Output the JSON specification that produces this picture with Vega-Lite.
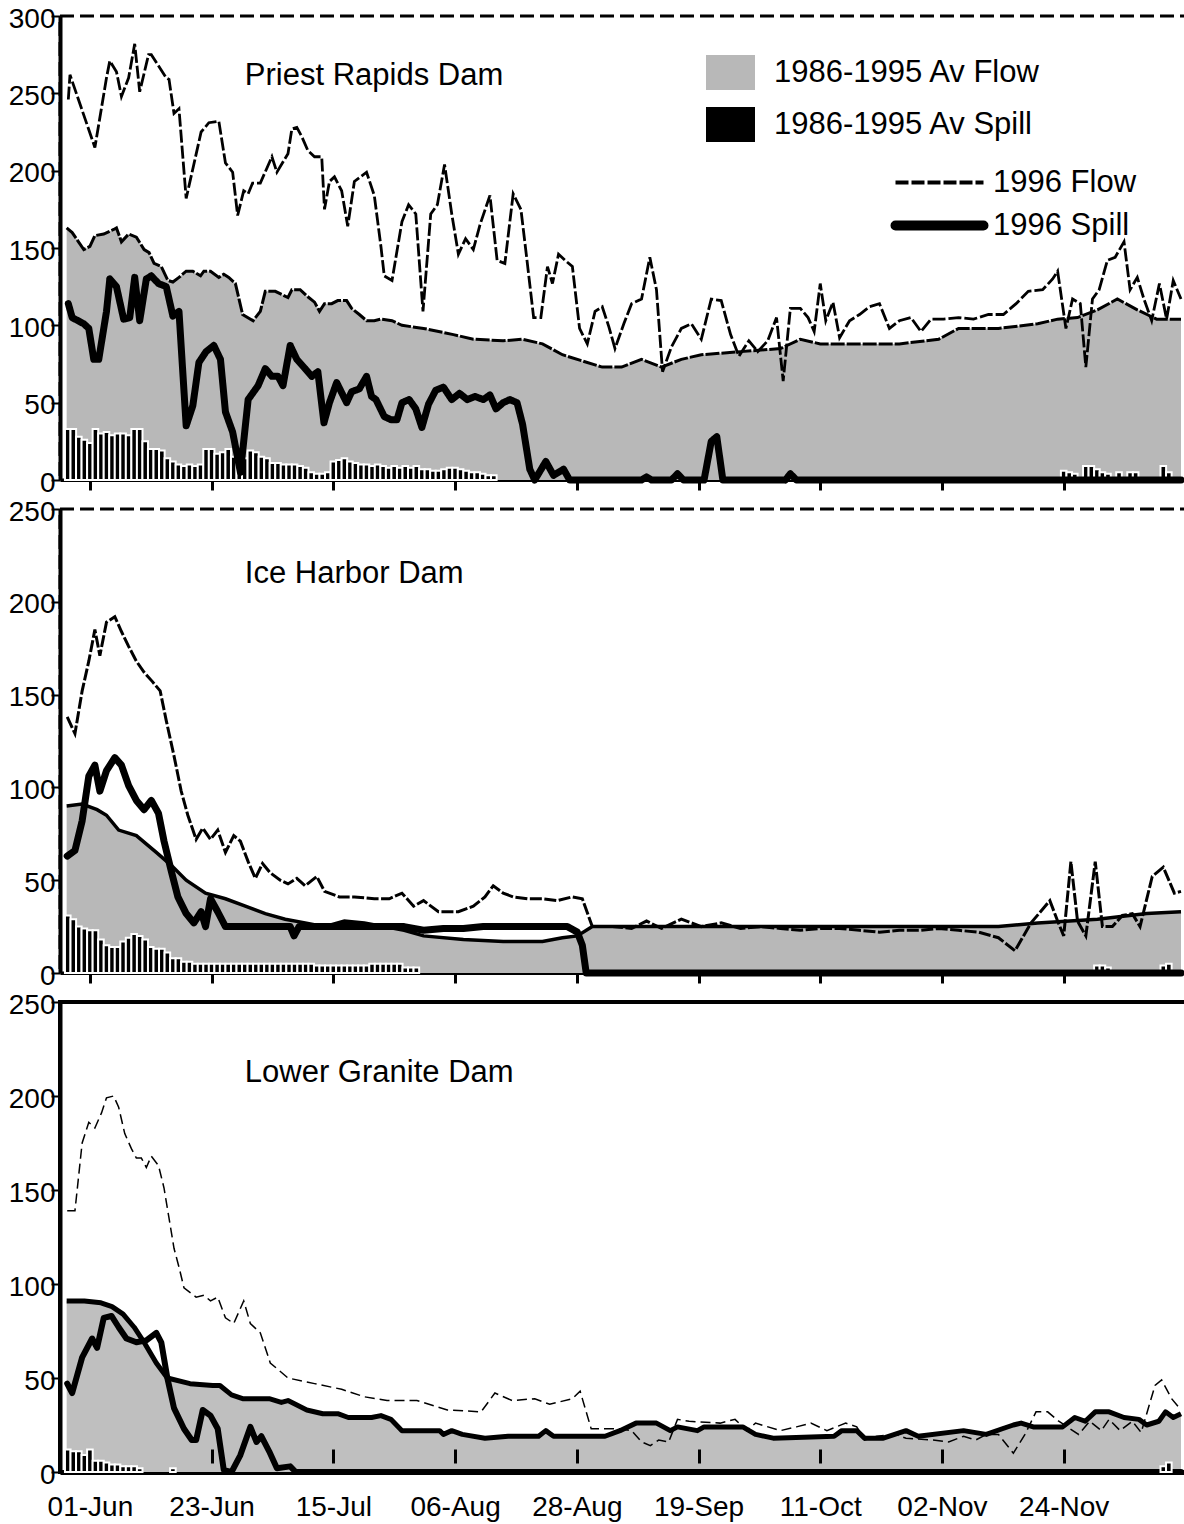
{
  "$schema": "https://vega.github.io/schema/vega-lite/v6.json",
  "background": "white",
  "padding": {"left": 6, "top": 3, "right": 0, "bottom": 0},
  "config": {
    "font": "Liberation Sans",
    "axis": {"grid": false, "labelColor": "black", "domainColor": "black", "tickColor": "black", "labelFont": "Liberation Sans", "labelFontSize": 28, "labelFlush": false, "labelOverlap": false, "zindex": 1},
    "legend": {"labelFont": "Liberation Sans", "labelFontSize": 31, "labelColor": "black", "labelLimit": 0, "padding": 0, "offset": 0}
  },
  "datasets": {
    "prAvFlow": [{"day":-4.2,"kcfs":163},{"day":-3.2,"kcfs":160},{"day":-1.1,"kcfs":149},{"day":0,"kcfs":151},{"day":0.9,"kcfs":158},{"day":2.5,"kcfs":159},{"day":4.3,"kcfs":162},{"day":4.8,"kcfs":163},{"day":5.7,"kcfs":154},{"day":7,"kcfs":159},{"day":8.4,"kcfs":157},{"day":9.8,"kcfs":149},{"day":10.7,"kcfs":147},{"day":11.6,"kcfs":140},{"day":12.9,"kcfs":138},{"day":14.1,"kcfs":129},{"day":15,"kcfs":128},{"day":16.1,"kcfs":131},{"day":17.4,"kcfs":135},{"day":18.6,"kcfs":135},{"day":20,"kcfs":132},{"day":20.6,"kcfs":135},{"day":21.8,"kcfs":135},{"day":23.3,"kcfs":131},{"day":24.2,"kcfs":133},{"day":25.1,"kcfs":131},{"day":26.3,"kcfs":127},{"day":27.6,"kcfs":107},{"day":29.5,"kcfs":103},{"day":30.8,"kcfs":109},{"day":31.7,"kcfs":122},{"day":33.5,"kcfs":122},{"day":35.8,"kcfs":118},{"day":36.5,"kcfs":123},{"day":38,"kcfs":123},{"day":39.2,"kcfs":119},{"day":40.6,"kcfs":115},{"day":41.5,"kcfs":109},{"day":42.4,"kcfs":114},{"day":43.7,"kcfs":114},{"day":44.8,"kcfs":116},{"day":46.4,"kcfs":116},{"day":47.3,"kcfs":111},{"day":48.7,"kcfs":107},{"day":50,"kcfs":103},{"day":51.4,"kcfs":103},{"day":52.6,"kcfs":104},{"day":54.6,"kcfs":103},{"day":56.4,"kcfs":100},{"day":60.3,"kcfs":98},{"day":65.7,"kcfs":94},{"day":69.3,"kcfs":91},{"day":74.7,"kcfs":90},{"day":78.2,"kcfs":91},{"day":81.8,"kcfs":88},{"day":85.4,"kcfs":81},{"day":89,"kcfs":77},{"day":92.6,"kcfs":73},{"day":96.1,"kcfs":73},{"day":99.7,"kcfs":78},{"day":103.3,"kcfs":73},{"day":106.9,"kcfs":78},{"day":110.5,"kcfs":81},{"day":117.6,"kcfs":83},{"day":124.8,"kcfs":85},{"day":128.4,"kcfs":91},{"day":132,"kcfs":88},{"day":139.1,"kcfs":88},{"day":146.3,"kcfs":88},{"day":153.4,"kcfs":91},{"day":157,"kcfs":98},{"day":164.2,"kcfs":98},{"day":171.3,"kcfs":101},{"day":174.9,"kcfs":104},{"day":178.5,"kcfs":105},{"day":182.1,"kcfs":110},{"day":185.7,"kcfs":117},{"day":189.3,"kcfs":110},{"day":192.8,"kcfs":104},{"day":197.2,"kcfs":104}],
    "prFlow": [{"day":-3.9,"kcfs":246},{"day":-3.6,"kcfs":262},{"day":0.9,"kcfs":215},{"day":3,"kcfs":260},{"day":3.6,"kcfs":271},{"day":4.8,"kcfs":264},{"day":5.7,"kcfs":248},{"day":7,"kcfs":260},{"day":8.1,"kcfs":282},{"day":9,"kcfs":251},{"day":10.6,"kcfs":275},{"day":11.1,"kcfs":275},{"day":13.8,"kcfs":260},{"day":14.3,"kcfs":259},{"day":15.2,"kcfs":237},{"day":16.1,"kcfs":240},{"day":17.4,"kcfs":182},{"day":20.1,"kcfs":225},{"day":21.5,"kcfs":231},{"day":23.3,"kcfs":232},{"day":24.5,"kcfs":205},{"day":25.8,"kcfs":199},{"day":26.7,"kcfs":171},{"day":27.8,"kcfs":187},{"day":28.6,"kcfs":185},{"day":29.4,"kcfs":192},{"day":30.8,"kcfs":192},{"day":32.9,"kcfs":209},{"day":33.8,"kcfs":199},{"day":35.8,"kcfs":211},{"day":36.5,"kcfs":227},{"day":37.4,"kcfs":228},{"day":38.3,"kcfs":222},{"day":39.4,"kcfs":213},{"day":40.6,"kcfs":209},{"day":41.9,"kcfs":209},{"day":42.4,"kcfs":175},{"day":43.3,"kcfs":193},{"day":44.2,"kcfs":196},{"day":45.5,"kcfs":187},{"day":46.6,"kcfs":164},{"day":47.8,"kcfs":193},{"day":50,"kcfs":199},{"day":51.4,"kcfs":184},{"day":52.6,"kcfs":151},{"day":53.2,"kcfs":132},{"day":54.6,"kcfs":129},{"day":56.4,"kcfs":167},{"day":57.6,"kcfs":178},{"day":58.9,"kcfs":172},{"day":60.2,"kcfs":109},{"day":61.6,"kcfs":172},{"day":62.8,"kcfs":178},{"day":64.1,"kcfs":204},{"day":65.4,"kcfs":172},{"day":66.6,"kcfs":146},{"day":67.9,"kcfs":156},{"day":69.3,"kcfs":149},{"day":70.5,"kcfs":165},{"day":72.3,"kcfs":184},{"day":73.6,"kcfs":142},{"day":75,"kcfs":140},{"day":76.5,"kcfs":185},{"day":77.9,"kcfs":175},{"day":79,"kcfs":142},{"day":80.2,"kcfs":105},{"day":81.5,"kcfs":105},{"day":82.7,"kcfs":138},{"day":83.6,"kcfs":127},{"day":84.7,"kcfs":146},{"day":85.9,"kcfs":142},{"day":87.2,"kcfs":138},{"day":88.5,"kcfs":98},{"day":89.9,"kcfs":88},{"day":91.3,"kcfs":109},{"day":92.6,"kcfs":112},{"day":93.8,"kcfs":99},{"day":94.9,"kcfs":85},{"day":96.5,"kcfs":101},{"day":97.9,"kcfs":114},{"day":99.7,"kcfs":117},{"day":101.2,"kcfs":144},{"day":102.4,"kcfs":123},{"day":103.5,"kcfs":70},{"day":105.1,"kcfs":86},{"day":106.9,"kcfs":98},{"day":108.7,"kcfs":101},{"day":110.5,"kcfs":91},{"day":112.3,"kcfs":117},{"day":114.1,"kcfs":116},{"day":115.8,"kcfs":94},{"day":117.3,"kcfs":80},{"day":119.1,"kcfs":90},{"day":120.7,"kcfs":83},{"day":122.5,"kcfs":90},{"day":124.1,"kcfs":105},{"day":125.3,"kcfs":64},{"day":126.6,"kcfs":111},{"day":128.4,"kcfs":111},{"day":129.8,"kcfs":105},{"day":130.9,"kcfs":96},{"day":132,"kcfs":127},{"day":133,"kcfs":103},{"day":134.3,"kcfs":115},{"day":135.5,"kcfs":92},{"day":137.3,"kcfs":103},{"day":139.1,"kcfs":107},{"day":140.9,"kcfs":112},{"day":142.7,"kcfs":114},{"day":144.5,"kcfs":98},{"day":146.3,"kcfs":103},{"day":148.4,"kcfs":105},{"day":150.2,"kcfs":96},{"day":152,"kcfs":104},{"day":154.3,"kcfs":104},{"day":157,"kcfs":105},{"day":159.7,"kcfs":104},{"day":162.4,"kcfs":107},{"day":165.1,"kcfs":107},{"day":167.4,"kcfs":114},{"day":169.6,"kcfs":122},{"day":172.2,"kcfs":123},{"day":174,"kcfs":130},{"day":174.9,"kcfs":135},{"day":176.4,"kcfs":98},{"day":177.6,"kcfs":117},{"day":179,"kcfs":114},{"day":180,"kcfs":73},{"day":181.2,"kcfs":117},{"day":182.4,"kcfs":123},{"day":183.9,"kcfs":142},{"day":185.3,"kcfs":144},{"day":186.9,"kcfs":154},{"day":188,"kcfs":123},{"day":189.3,"kcfs":131},{"day":190.5,"kcfs":117},{"day":191.9,"kcfs":103},{"day":193.3,"kcfs":127},{"day":194.6,"kcfs":104},{"day":195.8,"kcfs":129},{"day":197.2,"kcfs":117}],
    "prSpill": [{"day":-3.9,"kcfs":114},{"day":-3.2,"kcfs":105},{"day":-1.1,"kcfs":101},{"day":-0.2,"kcfs":98},{"day":0.7,"kcfs":78},{"day":1.6,"kcfs":78},{"day":3,"kcfs":109},{"day":3.6,"kcfs":130},{"day":4.8,"kcfs":125},{"day":6.1,"kcfs":104},{"day":7.2,"kcfs":105},{"day":8.1,"kcfs":131},{"day":9,"kcfs":103},{"day":10.2,"kcfs":130},{"day":11.1,"kcfs":132},{"day":12.4,"kcfs":127},{"day":13.8,"kcfs":125},{"day":15,"kcfs":106},{"day":16.1,"kcfs":109},{"day":17.4,"kcfs":35},{"day":18.6,"kcfs":48},{"day":19.7,"kcfs":76},{"day":21,"kcfs":83},{"day":22.4,"kcfs":87},{"day":23.6,"kcfs":78},{"day":24.5,"kcfs":44},{"day":25.8,"kcfs":31},{"day":27.2,"kcfs":5},{"day":27.8,"kcfs":25},{"day":28.6,"kcfs":52},{"day":30.4,"kcfs":61},{"day":31.7,"kcfs":72},{"day":32.9,"kcfs":67},{"day":34,"kcfs":67},{"day":34.9,"kcfs":61},{"day":36.2,"kcfs":87},{"day":37.4,"kcfs":78},{"day":38.9,"kcfs":72},{"day":40.1,"kcfs":67},{"day":41.2,"kcfs":70},{"day":42.3,"kcfs":37},{"day":43.3,"kcfs":50},{"day":44.6,"kcfs":63},{"day":46.4,"kcfs":50},{"day":47.3,"kcfs":57},{"day":48.7,"kcfs":59},{"day":50,"kcfs":67},{"day":50.9,"kcfs":54},{"day":51.7,"kcfs":52},{"day":53.2,"kcfs":41},{"day":54.4,"kcfs":39},{"day":55.5,"kcfs":39},{"day":56.4,"kcfs":50},{"day":57.7,"kcfs":52},{"day":58.9,"kcfs":46},{"day":60,"kcfs":34},{"day":61.2,"kcfs":49},{"day":62.5,"kcfs":58},{"day":63.9,"kcfs":60},{"day":65.4,"kcfs":52},{"day":66.8,"kcfs":56},{"day":68.2,"kcfs":52},{"day":69.6,"kcfs":54},{"day":71.1,"kcfs":52},{"day":72.3,"kcfs":55},{"day":73.4,"kcfs":46},{"day":74.7,"kcfs":50},{"day":75.9,"kcfs":52},{"day":77.2,"kcfs":50},{"day":78.2,"kcfs":36},{"day":79.5,"kcfs":7},{"day":80.4,"kcfs":0},{"day":82.4,"kcfs":12},{"day":83.8,"kcfs":3},{"day":85.6,"kcfs":7},{"day":86.7,"kcfs":0},{"day":99.7,"kcfs":0},{"day":100.6,"kcfs":2},{"day":101.5,"kcfs":0},{"day":105.1,"kcfs":0},{"day":106.2,"kcfs":4},{"day":107.3,"kcfs":0},{"day":111,"kcfs":0},{"day":112.3,"kcfs":25},{"day":113.3,"kcfs":28},{"day":114.4,"kcfs":0},{"day":125.7,"kcfs":0},{"day":126.6,"kcfs":4},{"day":127.7,"kcfs":0},{"day":197.2,"kcfs":0}],
    "prAvSpill": [{"day":-4,"kcfs":33},{"day":-3,"kcfs":33},{"day":-2,"kcfs":28},{"day":-1,"kcfs":26},{"day":0,"kcfs":24},{"day":1,"kcfs":33},{"day":2,"kcfs":30},{"day":3,"kcfs":31},{"day":4,"kcfs":29},{"day":5,"kcfs":30},{"day":6,"kcfs":30},{"day":7,"kcfs":29},{"day":8,"kcfs":33},{"day":9,"kcfs":33},{"day":10,"kcfs":25},{"day":11,"kcfs":20},{"day":12,"kcfs":20},{"day":13,"kcfs":19},{"day":14,"kcfs":14},{"day":15,"kcfs":12},{"day":16,"kcfs":10},{"day":17,"kcfs":9},{"day":18,"kcfs":10},{"day":19,"kcfs":9},{"day":20,"kcfs":10},{"day":21,"kcfs":20},{"day":22,"kcfs":20},{"day":23,"kcfs":17},{"day":24,"kcfs":18},{"day":25,"kcfs":20},{"day":26,"kcfs":15},{"day":27,"kcfs":15},{"day":28,"kcfs":14},{"day":29,"kcfs":19},{"day":30,"kcfs":18},{"day":31,"kcfs":15},{"day":32,"kcfs":14},{"day":33,"kcfs":11},{"day":34,"kcfs":11},{"day":35,"kcfs":10},{"day":36,"kcfs":10},{"day":37,"kcfs":10},{"day":38,"kcfs":9},{"day":39,"kcfs":8},{"day":40,"kcfs":5},{"day":41,"kcfs":4},{"day":42,"kcfs":4},{"day":43,"kcfs":5},{"day":44,"kcfs":12},{"day":45,"kcfs":13},{"day":46,"kcfs":14},{"day":47,"kcfs":12},{"day":48,"kcfs":11},{"day":49,"kcfs":10},{"day":50,"kcfs":10},{"day":51,"kcfs":9},{"day":52,"kcfs":10},{"day":53,"kcfs":9},{"day":54,"kcfs":8},{"day":55,"kcfs":9},{"day":56,"kcfs":8},{"day":57,"kcfs":9},{"day":58,"kcfs":8},{"day":59,"kcfs":9},{"day":60,"kcfs":7},{"day":61,"kcfs":7},{"day":62,"kcfs":6},{"day":63,"kcfs":6},{"day":64,"kcfs":7},{"day":65,"kcfs":8},{"day":66,"kcfs":8},{"day":67,"kcfs":7},{"day":68,"kcfs":6},{"day":69,"kcfs":5},{"day":70,"kcfs":5},{"day":71,"kcfs":4},{"day":72,"kcfs":3},{"day":73,"kcfs":3},{"day":176,"kcfs":6},{"day":177,"kcfs":5},{"day":178,"kcfs":4},{"day":180,"kcfs":9},{"day":181,"kcfs":9},{"day":182,"kcfs":7},{"day":183,"kcfs":5},{"day":184,"kcfs":4},{"day":186,"kcfs":5},{"day":188,"kcfs":5},{"day":189,"kcfs":5},{"day":194,"kcfs":9},{"day":195,"kcfs":5}],
    "ihAvFlow": [{"day":-4.2,"kcfs":90},{"day":-1.4,"kcfs":91},{"day":1.3,"kcfs":88},{"day":3,"kcfs":85},{"day":5.2,"kcfs":77},{"day":8.4,"kcfs":74},{"day":12,"kcfs":65},{"day":14.7,"kcfs":58},{"day":17.4,"kcfs":50},{"day":20.9,"kcfs":43},{"day":24.5,"kcfs":40},{"day":28.1,"kcfs":36},{"day":31.7,"kcfs":32},{"day":35.3,"kcfs":29},{"day":38.9,"kcfs":27},{"day":42.4,"kcfs":25},{"day":46,"kcfs":28},{"day":49.6,"kcfs":27},{"day":53.2,"kcfs":25},{"day":56.8,"kcfs":23},{"day":60.3,"kcfs":20},{"day":67.5,"kcfs":18},{"day":74.7,"kcfs":17},{"day":81.8,"kcfs":17},{"day":85.4,"kcfs":19},{"day":88.1,"kcfs":20},{"day":90.8,"kcfs":25},{"day":164.2,"kcfs":25},{"day":171.3,"kcfs":27},{"day":182.1,"kcfs":29},{"day":191,"kcfs":32},{"day":197.2,"kcfs":33}],
    "ihFlow": [{"day":-4.1,"kcfs":138},{"day":-2.7,"kcfs":129},{"day":-1.4,"kcfs":152},{"day":-0.2,"kcfs":168},{"day":0.9,"kcfs":185},{"day":1.8,"kcfs":171},{"day":3,"kcfs":189},{"day":4.5,"kcfs":192},{"day":5.7,"kcfs":184},{"day":7,"kcfs":176},{"day":8.4,"kcfs":168},{"day":9.8,"kcfs":162},{"day":11.3,"kcfs":157},{"day":12.7,"kcfs":152},{"day":13.8,"kcfs":136},{"day":15.2,"kcfs":117},{"day":16.5,"kcfs":98},{"day":17.7,"kcfs":85},{"day":19.2,"kcfs":72},{"day":20.4,"kcfs":78},{"day":21.8,"kcfs":72},{"day":23.1,"kcfs":77},{"day":24.5,"kcfs":65},{"day":26,"kcfs":74},{"day":27.2,"kcfs":71},{"day":28.6,"kcfs":60},{"day":29.9,"kcfs":51},{"day":31.2,"kcfs":59},{"day":32.6,"kcfs":54},{"day":34.4,"kcfs":50},{"day":35.8,"kcfs":48},{"day":37.4,"kcfs":51},{"day":38.9,"kcfs":47},{"day":41,"kcfs":52},{"day":42.4,"kcfs":44},{"day":45.1,"kcfs":41},{"day":47.8,"kcfs":41},{"day":51.4,"kcfs":40},{"day":54.1,"kcfs":40},{"day":56.4,"kcfs":43},{"day":58.5,"kcfs":36},{"day":60.3,"kcfs":39},{"day":63,"kcfs":33},{"day":66.6,"kcfs":33},{"day":69.3,"kcfs":36},{"day":71.4,"kcfs":41},{"day":72.9,"kcfs":47},{"day":74.7,"kcfs":43},{"day":76.5,"kcfs":41},{"day":79.1,"kcfs":40},{"day":81.8,"kcfs":40},{"day":84.5,"kcfs":39},{"day":87.2,"kcfs":41},{"day":89,"kcfs":40},{"day":90.8,"kcfs":25},{"day":94.4,"kcfs":25},{"day":97.9,"kcfs":24},{"day":100.6,"kcfs":28},{"day":103.3,"kcfs":24},{"day":106.9,"kcfs":29},{"day":110.5,"kcfs":25},{"day":114.1,"kcfs":27},{"day":117.6,"kcfs":24},{"day":121.2,"kcfs":25},{"day":124.8,"kcfs":24},{"day":128.4,"kcfs":23},{"day":132,"kcfs":24},{"day":135.5,"kcfs":24},{"day":139.1,"kcfs":23},{"day":142.7,"kcfs":22},{"day":146.3,"kcfs":23},{"day":150,"kcfs":23},{"day":153.4,"kcfs":24},{"day":157,"kcfs":23},{"day":160.6,"kcfs":22},{"day":164.2,"kcfs":19},{"day":167.2,"kcfs":12},{"day":170.1,"kcfs":27},{"day":173.5,"kcfs":39},{"day":174.9,"kcfs":28},{"day":176,"kcfs":20},{"day":177.3,"kcfs":60},{"day":178.5,"kcfs":28},{"day":180,"kcfs":20},{"day":181.7,"kcfs":60},{"day":183,"kcfs":25},{"day":184.8,"kcfs":25},{"day":186.6,"kcfs":31},{"day":188.4,"kcfs":32},{"day":189.8,"kcfs":25},{"day":192,"kcfs":52},{"day":194,"kcfs":57},{"day":196,"kcfs":43},{"day":197.2,"kcfs":44}],
    "ihSpill": [{"day":-4.1,"kcfs":63},{"day":-2.7,"kcfs":66},{"day":-1.4,"kcfs":82},{"day":-0.2,"kcfs":106},{"day":0.9,"kcfs":112},{"day":1.8,"kcfs":98},{"day":3,"kcfs":109},{"day":4.5,"kcfs":116},{"day":5.7,"kcfs":112},{"day":7,"kcfs":101},{"day":8.4,"kcfs":93},{"day":9.8,"kcfs":88},{"day":11.1,"kcfs":93},{"day":12.4,"kcfs":86},{"day":13.4,"kcfs":71},{"day":14.7,"kcfs":55},{"day":15.9,"kcfs":41},{"day":17.4,"kcfs":32},{"day":18.8,"kcfs":27},{"day":20.1,"kcfs":33},{"day":20.9,"kcfs":25},{"day":21.8,"kcfs":40},{"day":23.1,"kcfs":33},{"day":24.5,"kcfs":25},{"day":36.2,"kcfs":25},{"day":36.9,"kcfs":20},{"day":37.8,"kcfs":25},{"day":56.8,"kcfs":25},{"day":60.3,"kcfs":23},{"day":63.9,"kcfs":24},{"day":67.5,"kcfs":24},{"day":71.1,"kcfs":25},{"day":86.3,"kcfs":25},{"day":88.1,"kcfs":22},{"day":89,"kcfs":15},{"day":89.7,"kcfs":0},{"day":197.2,"kcfs":0}],
    "ihAvSpill": [{"day":-4,"kcfs":31},{"day":-3,"kcfs":29},{"day":-2,"kcfs":25},{"day":-1,"kcfs":24},{"day":0,"kcfs":23},{"day":1,"kcfs":23},{"day":2,"kcfs":18},{"day":3,"kcfs":15},{"day":4,"kcfs":14},{"day":5,"kcfs":14},{"day":6,"kcfs":17},{"day":7,"kcfs":19},{"day":8,"kcfs":21},{"day":9,"kcfs":20},{"day":10,"kcfs":18},{"day":11,"kcfs":14},{"day":12,"kcfs":13},{"day":13,"kcfs":13},{"day":14,"kcfs":11},{"day":15,"kcfs":8},{"day":16,"kcfs":8},{"day":17,"kcfs":6},{"day":18,"kcfs":6},{"day":19,"kcfs":5},{"day":20,"kcfs":5},{"day":21,"kcfs":5},{"day":22,"kcfs":5},{"day":23,"kcfs":5},{"day":24,"kcfs":5},{"day":25,"kcfs":5},{"day":26,"kcfs":5},{"day":27,"kcfs":5},{"day":28,"kcfs":5},{"day":29,"kcfs":5},{"day":30,"kcfs":5},{"day":31,"kcfs":5},{"day":32,"kcfs":5},{"day":33,"kcfs":5},{"day":34,"kcfs":5},{"day":35,"kcfs":5},{"day":36,"kcfs":5},{"day":37,"kcfs":5},{"day":38,"kcfs":5},{"day":39,"kcfs":5},{"day":40,"kcfs":5},{"day":41,"kcfs":4},{"day":42,"kcfs":4},{"day":43,"kcfs":4},{"day":44,"kcfs":4},{"day":45,"kcfs":4},{"day":46,"kcfs":4},{"day":47,"kcfs":4},{"day":48,"kcfs":4},{"day":49,"kcfs":4},{"day":50,"kcfs":4},{"day":51,"kcfs":5},{"day":52,"kcfs":5},{"day":53,"kcfs":5},{"day":54,"kcfs":5},{"day":55,"kcfs":5},{"day":56,"kcfs":5},{"day":57,"kcfs":3},{"day":58,"kcfs":3},{"day":59,"kcfs":3},{"day":182,"kcfs":4},{"day":183,"kcfs":4},{"day":184,"kcfs":3},{"day":194,"kcfs":4},{"day":195,"kcfs":5}],
    "lgAvFlow": [{"day":-4.2,"kcfs":91},{"day":-1,"kcfs":91},{"day":2,"kcfs":90},{"day":4,"kcfs":88},{"day":6,"kcfs":84},{"day":8,"kcfs":77},{"day":10,"kcfs":68},{"day":12,"kcfs":58},{"day":14,"kcfs":50},{"day":18.1,"kcfs":47},{"day":22.2,"kcfs":46},{"day":23.5,"kcfs":46},{"day":25.6,"kcfs":41},{"day":27.6,"kcfs":39},{"day":32.4,"kcfs":39},{"day":34.6,"kcfs":37},{"day":35.8,"kcfs":38},{"day":39.2,"kcfs":33},{"day":42.1,"kcfs":31},{"day":44.8,"kcfs":31},{"day":46.7,"kcfs":29},{"day":50.9,"kcfs":29},{"day":52.6,"kcfs":30},{"day":54.4,"kcfs":28},{"day":56.4,"kcfs":22},{"day":63.2,"kcfs":22},{"day":63.9,"kcfs":20},{"day":65.4,"kcfs":22},{"day":67.3,"kcfs":20},{"day":71.4,"kcfs":18},{"day":75.6,"kcfs":19},{"day":81.1,"kcfs":19},{"day":82.4,"kcfs":22},{"day":83.8,"kcfs":19},{"day":93.1,"kcfs":19},{"day":95.8,"kcfs":22},{"day":98.7,"kcfs":26},{"day":102.4,"kcfs":26},{"day":104.9,"kcfs":22},{"day":106.2,"kcfs":24},{"day":109.8,"kcfs":22},{"day":111,"kcfs":24},{"day":118,"kcfs":24},{"day":120.3,"kcfs":20},{"day":123.5,"kcfs":18},{"day":134.5,"kcfs":19},{"day":135.9,"kcfs":22},{"day":138.6,"kcfs":22},{"day":140,"kcfs":18},{"day":143.4,"kcfs":18},{"day":147.5,"kcfs":22},{"day":149.7,"kcfs":19},{"day":157.9,"kcfs":22},{"day":162,"kcfs":20},{"day":164.9,"kcfs":23},{"day":166.9,"kcfs":25},{"day":168.3,"kcfs":26},{"day":170.5,"kcfs":24},{"day":175.8,"kcfs":24},{"day":178,"kcfs":29},{"day":179.9,"kcfs":27},{"day":181.7,"kcfs":32},{"day":184.2,"kcfs":32},{"day":186.9,"kcfs":29},{"day":189.6,"kcfs":28},{"day":191,"kcfs":25},{"day":193.2,"kcfs":27},{"day":194.4,"kcfs":32},{"day":195.8,"kcfs":29},{"day":197.2,"kcfs":31}],
    "lgFlow": [{"day":-4.1,"kcfs":139},{"day":-2.7,"kcfs":139},{"day":-1.4,"kcfs":175},{"day":-0.2,"kcfs":186},{"day":0.9,"kcfs":183},{"day":2.1,"kcfs":191},{"day":3,"kcfs":199},{"day":4.3,"kcfs":200},{"day":5.2,"kcfs":194},{"day":6.3,"kcfs":180},{"day":7.5,"kcfs":172},{"day":8.4,"kcfs":167},{"day":9.3,"kcfs":167},{"day":10.2,"kcfs":162},{"day":11.1,"kcfs":168},{"day":12.4,"kcfs":163},{"day":13.4,"kcfs":151},{"day":14.3,"kcfs":135},{"day":15.2,"kcfs":119},{"day":16.1,"kcfs":109},{"day":17,"kcfs":98},{"day":19.2,"kcfs":93},{"day":20.6,"kcfs":94},{"day":21.8,"kcfs":91},{"day":23.1,"kcfs":93},{"day":24.5,"kcfs":82},{"day":26,"kcfs":79},{"day":27.8,"kcfs":91},{"day":29,"kcfs":79},{"day":30.8,"kcfs":74},{"day":32.6,"kcfs":58},{"day":35.8,"kcfs":50},{"day":40.6,"kcfs":47},{"day":45.5,"kcfs":44},{"day":49.6,"kcfs":40},{"day":53.7,"kcfs":38},{"day":59.1,"kcfs":38},{"day":64.6,"kcfs":33},{"day":70.7,"kcfs":32},{"day":73.2,"kcfs":42},{"day":76.3,"kcfs":38},{"day":80.4,"kcfs":39},{"day":83.1,"kcfs":36},{"day":87.2,"kcfs":39},{"day":88.6,"kcfs":43},{"day":90.6,"kcfs":23},{"day":95.8,"kcfs":23},{"day":97.9,"kcfs":22},{"day":99.7,"kcfs":16},{"day":101.3,"kcfs":14},{"day":102.8,"kcfs":17},{"day":104.6,"kcfs":16},{"day":106.2,"kcfs":28},{"day":108.3,"kcfs":27},{"day":113.9,"kcfs":26},{"day":116.6,"kcfs":28},{"day":118.7,"kcfs":22},{"day":120.3,"kcfs":26},{"day":124.8,"kcfs":22},{"day":127.7,"kcfs":24},{"day":130.3,"kcfs":26},{"day":133.2,"kcfs":22},{"day":136.6,"kcfs":26},{"day":138.6,"kcfs":24},{"day":140,"kcfs":17},{"day":142.2,"kcfs":19},{"day":145.6,"kcfs":20},{"day":147.5,"kcfs":18},{"day":152.4,"kcfs":17},{"day":155.2,"kcfs":16},{"day":157.9,"kcfs":19},{"day":160.1,"kcfs":17},{"day":162,"kcfs":20},{"day":164.2,"kcfs":20},{"day":166.9,"kcfs":10},{"day":169,"kcfs":20},{"day":171,"kcfs":32},{"day":173.1,"kcfs":32},{"day":175.1,"kcfs":27},{"day":178.7,"kcfs":20},{"day":180.7,"kcfs":27},{"day":182.8,"kcfs":22},{"day":184.2,"kcfs":28},{"day":186.2,"kcfs":22},{"day":188.4,"kcfs":27},{"day":190,"kcfs":21},{"day":192.5,"kcfs":46},{"day":193.7,"kcfs":49},{"day":195.5,"kcfs":39},{"day":197.2,"kcfs":33}],
    "lgSpill": [{"day":-4.1,"kcfs":47},{"day":-3.2,"kcfs":42},{"day":-1.4,"kcfs":61},{"day":0.4,"kcfs":71},{"day":1.3,"kcfs":66},{"day":2.5,"kcfs":82},{"day":3.9,"kcfs":83},{"day":5.2,"kcfs":77},{"day":6.6,"kcfs":71},{"day":8.4,"kcfs":69},{"day":10.2,"kcfs":70},{"day":12,"kcfs":74},{"day":12.9,"kcfs":69},{"day":14,"kcfs":50},{"day":15.2,"kcfs":34},{"day":17,"kcfs":23},{"day":18.4,"kcfs":17},{"day":19.2,"kcfs":17},{"day":20.4,"kcfs":33},{"day":21.8,"kcfs":30},{"day":23.1,"kcfs":23},{"day":24.2,"kcfs":1},{"day":25.6,"kcfs":0},{"day":27.2,"kcfs":9},{"day":29,"kcfs":24},{"day":30.1,"kcfs":16},{"day":31,"kcfs":19},{"day":32.4,"kcfs":11},{"day":33.8,"kcfs":2},{"day":36.2,"kcfs":3},{"day":37.2,"kcfs":0},{"day":197.2,"kcfs":0}],
    "lgAvSpill": [{"day":-4,"kcfs":12},{"day":-3,"kcfs":11},{"day":-2,"kcfs":11},{"day":-1,"kcfs":9},{"day":0,"kcfs":12},{"day":1,"kcfs":6},{"day":2,"kcfs":6},{"day":3,"kcfs":5},{"day":4,"kcfs":4},{"day":5,"kcfs":4},{"day":6,"kcfs":3},{"day":7,"kcfs":3},{"day":8,"kcfs":3},{"day":9,"kcfs":2},{"day":15,"kcfs":2},{"day":194,"kcfs":3},{"day":195,"kcfs":5}]
  },
  "vconcat": [
    {
      "width": 1126,
      "height": 464,
      "view": {"stroke": "black", "strokeWidth": 3, "strokeDash": [14, 6]},
      "layer": [
        {
          "encoding": {
            "x": {"field": "day", "type": "quantitative", "scale": {"domain": [-4.5, 197.2], "nice": false, "zero": false},
                  "axis": {"values": [0, 22, 44, 66, 88, 110, 132, 154, 176], "labels": false, "tickSize": 10, "tickWidth": 3, "domainWidth": 3, "title": null}},
            "y": {"field": "kcfs", "type": "quantitative", "scale": {"domain": [0, 300], "nice": false},
                  "axis": {"values": [0, 50, 100, 150, 200, 250, 300], "tickSize": 9, "tickWidth": 2, "domainWidth": 4, "labelPadding": -4, "labelOffset": 3, "title": null}}
          },
          "layer": [
            {"data": {"name": "prAvFlow"}, "mark": {"type": "area", "interpolate": "linear"},
             "encoding": {"fill": {"datum": "1986-1995 Av Flow",
                "scale": {"domain": ["1986-1995 Av Flow", "1986-1995 Av Spill"], "range": ["#b8b8b8", "#000000"]},
                "legend": {"orient": "none", "legendX": 646, "legendY": 32, "title": null, "symbolType": "M-1,-0.71H1V0.71H-1Z", "symbolSize": 2401, "symbolStrokeWidth": 0, "labelOffset": 19, "rowPadding": 10,
                           "encode": {"symbols": {"update": {"fill": {"signal": "datum.value === '1986-1995 Av Flow' ? '#c0c0c0' : '#000000'"}}}}}}}},
            {"data": {"name": "prAvSpill"}, "mark": {"type": "bar", "width": 5.6, "stroke": "white", "strokeWidth": 2},
             "encoding": {"fill": {"datum": "1986-1995 Av Spill"}}},
            {"data": {"name": "prAvFlow"}, "mark": {"type": "line", "color": "black", "strokeWidth": 3, "strokeDash": [14, 2]}},
            {"data": {"name": "prFlow"}, "mark": {"type": "line", "color": "black", "strokeWidth": 2.8},
             "encoding": {"strokeDash": {"datum": "1996 Flow",
                "scale": {"domain": ["1996 Flow", "1996 Spill"], "range": [[13, 3], [1, 0]]},
                "legend": {"orient": "none", "legendX": 864, "legendY": 151, "title": null, "symbolType": "stroke", "symbolSize": 7744, "symbolStrokeColor": "black", "symbolStrokeWidth": 4, "labelOffset": 38, "rowPadding": 7,
                           "encode": {"symbols": {"update": {"strokeWidth": {"signal": "datum.value === '1996 Spill' ? 10 : 4"}, "strokeDash": {"signal": "datum.value === '1996 Spill' ? [1, 0] : [17, 17]"}, "strokeCap": {"signal": "datum.value === '1996 Spill' ? 'round' : 'butt'"}}}}}}}},
            {"data": {"name": "prSpill"}, "mark": {"type": "line", "color": "black", "strokeWidth": 7, "strokeJoin": "round", "strokeCap": "round"},
             "encoding": {"strokeDash": {"datum": "1996 Spill"}}}
          ]
        },
        {"data": {"values": [{"dam": "Priest Rapids Dam"}]},
         "mark": {"type": "text", "align": "left", "baseline": "middle", "fontSize": 31, "color": "black"},
         "encoding": {"x": {"datum": 28, "type": "quantitative"}, "y": {"datum": 261, "type": "quantitative"}, "text": {"field": "dam"}}}
      ]
    },
    {
      "width": 1126,
      "height": 464,
      "view": {"stroke": "black", "strokeWidth": 3, "strokeDash": [14, 6]},
      "layer": [
        {
          "encoding": {
            "x": {"field": "day", "type": "quantitative", "scale": {"domain": [-4.5, 197.2], "nice": false, "zero": false},
                  "axis": {"values": [0, 22, 44, 66, 88, 110, 132, 154, 176], "labels": false, "tickSize": 10, "tickWidth": 3, "domainWidth": 3, "title": null}},
            "y": {"field": "kcfs", "type": "quantitative", "scale": {"domain": [0, 250], "nice": false},
                  "axis": {"values": [0, 50, 100, 150, 200, 250], "tickSize": 9, "tickWidth": 2, "domainWidth": 4, "labelPadding": -4, "labelOffset": 3, "title": null}}
          },
          "layer": [
            {"data": {"name": "ihAvFlow"}, "mark": {"type": "area", "interpolate": "linear", "color": "#b8b8b8"}},
            {"data": {"name": "ihAvSpill"}, "mark": {"type": "bar", "width": 5.6, "color": "black", "stroke": "white", "strokeWidth": 2}},
            {"data": {"name": "ihAvFlow"}, "mark": {"type": "line", "color": "black", "strokeWidth": 3.5}},
            {"data": {"name": "ihFlow"}, "mark": {"type": "line", "color": "black", "strokeWidth": 3, "strokeDash": [12, 2.5]}},
            {"data": {"name": "ihSpill"}, "mark": {"type": "line", "color": "black", "strokeWidth": 7, "strokeJoin": "round", "strokeCap": "round"}}
          ]
        },
        {"data": {"values": [{"dam": "Ice Harbor Dam"}]},
         "mark": {"type": "text", "align": "left", "baseline": "middle", "fontSize": 31, "color": "black"},
         "encoding": {"x": {"datum": 28, "type": "quantitative"}, "y": {"datum": 215, "type": "quantitative"}, "text": {"field": "dam"}}}
      ]
    },
    {
      "width": 1126,
      "height": 470,
      "view": {"stroke": "black", "strokeWidth": 4},
      "resolve": {"axis": {"x": "independent"}},
      "layer": [
        {
          "encoding": {
            "x": {"field": "day", "type": "quantitative", "scale": {"domain": [-4.5, 197.2], "nice": false, "zero": false},
                  "axis": {"values": [0, 22, 44, 66, 88, 110, 132, 154, 176], "labelExpr": "timeFormat(datetime(1996, 5, 1 + datum.value), '%d-%b')", "ticks": false, "labelPadding": 21, "domainWidth": 5, "title": null}},
            "y": {"field": "kcfs", "type": "quantitative", "scale": {"domain": [0, 250], "nice": false},
                  "axis": {"values": [0, 50, 100, 150, 200, 250], "tickSize": 9, "tickWidth": 2, "domainWidth": 4, "labelPadding": -4, "labelOffset": 3, "title": null}}
          },
          "layer": [
            {"data": {"name": "lgAvFlow"}, "mark": {"type": "area", "interpolate": "linear", "color": "#bfbfbf"}},
            {"data": {"name": "lgAvFlow"}, "mark": {"type": "line", "color": "black", "strokeWidth": 5, "strokeJoin": "round"}},
            {"data": {"name": "lgFlow"}, "mark": {"type": "line", "color": "black", "strokeWidth": 1.5, "strokeDash": [10, 5]}},
            {"data": {"name": "lgSpill"}, "mark": {"type": "line", "color": "black", "strokeWidth": 6, "strokeJoin": "round", "strokeCap": "round"}}
          ]
        },
        {"data": {"name": "lgAvSpill"}, "mark": {"type": "bar", "width": 5.6, "color": "black", "stroke": "white", "strokeWidth": 2},
         "encoding": {
           "x": {"field": "day", "type": "quantitative",
                 "axis": {"orient": "bottom", "offset": -9, "values": [22, 44, 66, 88, 110, 132, 154, 176], "labels": false, "domain": false, "tickSize": -14, "tickWidth": 3, "zindex": 1, "title": null}},
           "y": {"field": "kcfs", "type": "quantitative"}
         }},
        {"data": {"values": [{"dam": "Lower Granite Dam"}]},
         "mark": {"type": "text", "align": "left", "baseline": "middle", "fontSize": 31, "color": "black"},
         "encoding": {"x": {"datum": 28, "type": "quantitative", "axis": null}, "y": {"datum": 212, "type": "quantitative"}, "text": {"field": "dam"}}}
      ]
    }
  ],
  "spacing": 29,
  "bounds": "flush",
  "resolve": {"scale": {"y": "independent"}}
}
